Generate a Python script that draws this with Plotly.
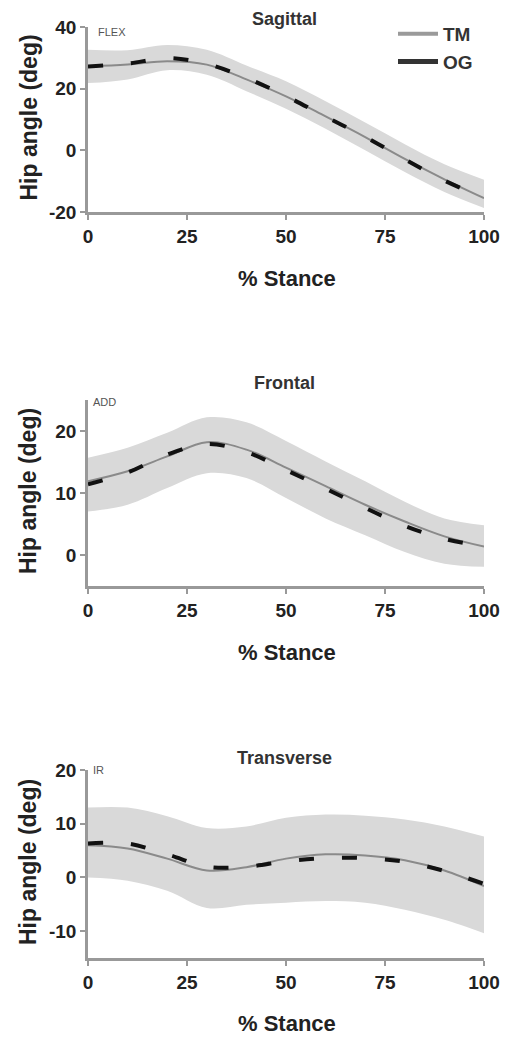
import plotly.graph_objects as go

W, H = 509, 1038
OFF = 8                       # page body margin in the browser
FW, FH = W - OFF, H - OFF     # figure size so it fits the window

# ---------------- data ----------------
stance = [0, 10, 20, 30, 40, 50, 60, 70, 80, 90, 100]

sag_tm = [27.2, 27.8, 28.9, 27.8, 23.0, 17.5, 11.0, 4.3, -2.8, -9.4, -15.5]
sag_og = [27.2, 28.1, 29.9, 28.0, 23.5, 17.6, 10.9, 4.4, -2.9, -9.8, -15.4]
sag_up = [32.6, 32.5, 34.2, 32.6, 27.5, 22.4, 15.9, 9.0, 2.0, -4.5, -9.5]
sag_lo = [21.8, 23.0, 26.0, 24.5, 19.2, 13.5, 7.0, 0.0, -7.0, -13.5, -18.7]

fro_tm = [11.9, 13.5, 15.9, 18.2, 17.0, 14.1, 11.1, 8.1, 5.4, 3.0, 1.35]
fro_og = [11.4, 13.3, 16.2, 17.9, 16.6, 13.7, 10.7, 7.6, 4.7, 2.6, 1.4]
fro_up = [15.7, 17.3, 19.7, 22.2, 21.4, 18.4, 15.1, 11.9, 8.6, 5.9, 4.8]
fro_lo = [7.0, 8.1, 10.8, 13.2, 12.4, 9.2, 5.9, 3.2, 0.5, -1.4, -1.9]

tra_tm = [6.0, 5.4, 3.5, 1.3, 1.9, 3.5, 4.3, 4.1, 3.2, 1.3, -1.6]
tra_og = [6.3, 6.3, 4.3, 2.0, 2.0, 3.0, 3.6, 3.6, 2.9, 1.2, -1.2]
tra_up = [13.0, 13.0, 11.4, 9.2, 9.5, 11.1, 11.7, 11.5, 10.8, 9.5, 7.6]
tra_lo = [0.0, -0.6, -2.5, -5.7, -5.1, -4.7, -4.4, -4.7, -6.0, -7.9, -10.4]

titles = ["Sagittal", "Frontal", "Transverse"]
corner = ["FLEX", "ADD", "IR"]
y_ranges = [[-20, 40], [-5, 25], [-15, 20]]
y_ticks = [[-20, 0, 20, 40], [0, 10, 20], [-10, 0, 10, 20]]
x_ticks = [0, 25, 50, 75, 100]
x_title = "% Stance"
y_title = "Hip angle (deg)"
series_names = ["TM", "OG"]

panels = [
    (sag_tm, sag_og, sag_up, sag_lo),
    (fro_tm, fro_og, fro_up, fro_lo),
    (tra_tm, tra_og, tra_up, tra_lo),
]

# ---------------- layout geometry (window pixels) ----------------
x_left, x_right = 88, 484
panel_px = [(27, 212), (400, 586), (770, 958)]
title_py = [19, 383, 758]
xtitle_py = [279, 652, 1023]
corner_py = [32, 402, 770]
corner_px = [96, 91, 91]

def px(x):
    return (x - OFF) / FW

def py(y):
    return 1 - (y - OFF) / FH

BAND = "#d9d9d9"
TMC = "#8a8a8a"
OGC = "#111111"
AXC = "#999999"
TXT = "#222222"
FONT = "Liberation Sans, Arial, sans-serif"

fig = go.Figure()
layout = dict(
    width=FW, height=FH, autosize=False,
    margin=dict(l=0, r=0, t=0, b=0, autoexpand=False),
    paper_bgcolor="white", plot_bgcolor="white",
    font=dict(family=FONT, color=TXT),
    showlegend=True,
)
annotations = []

for i, (tm, og, up, lo) in enumerate(panels):
    n = i + 1
    xa = "x" if n == 1 else f"x{n}"
    ya = "y" if n == 1 else f"y{n}"
    fig.add_trace(go.Scatter(x=stance, y=up, mode="lines", line=dict(width=0, color=BAND, shape="spline"),
                             xaxis=xa, yaxis=ya, showlegend=False, hoverinfo="skip"))
    fig.add_trace(go.Scatter(x=stance, y=lo, mode="lines", line=dict(width=0, color=BAND, shape="spline"),
                             fill="tonexty", fillcolor=BAND,
                             xaxis=xa, yaxis=ya, showlegend=False, hoverinfo="skip"))
    fig.add_trace(go.Scatter(x=stance, y=tm, mode="lines", line=dict(width=2, color=TMC, shape="spline"),
                             xaxis=xa, yaxis=ya, showlegend=False, name=series_names[0]))
    fig.add_trace(go.Scatter(x=stance, y=og, mode="lines",
                             line=dict(width=4, color=OGC, shape="spline", dash="15px,28px"),
                             xaxis=xa, yaxis=ya, showlegend=False, name=series_names[1]))

    top, bot = panel_px[i]
    xkey = "xaxis" if n == 1 else f"xaxis{n}"
    ykey = "yaxis" if n == 1 else f"yaxis{n}"
    layout[xkey] = dict(
        domain=[px(x_left), px(x_right)], anchor=ya, range=[0, 100], automargin=False,
        tickmode="array", tickvals=x_ticks, ticktext=[str(v) for v in x_ticks],
        ticks="outside", ticklen=5, tickwidth=2, tickcolor=AXC,
        showline=True, linecolor=AXC, linewidth=2.5, showgrid=False, zeroline=False,
        tickfont=dict(size=19, weight="bold", color=TXT, family=FONT),
    )
    layout[ykey] = dict(
        domain=[py(bot), py(top)], anchor=xa, range=y_ranges[i], automargin=False,
        tickmode="array", tickvals=y_ticks[i], ticktext=[str(v) for v in y_ticks[i]],
        ticks="outside", ticklen=5, tickwidth=2, tickcolor=AXC,
        showline=True, linecolor=AXC, linewidth=2.5, showgrid=False, zeroline=False,
        tickfont=dict(size=19, weight="bold", color=TXT, family=FONT),
    )
    annotations.append(dict(text=titles[i], xref="paper", yref="paper", x=px(284), y=py(title_py[i]),
                            xanchor="center", yanchor="middle", showarrow=False,
                            font=dict(size=18, weight="bold", color="#333333", family=FONT)))
    annotations.append(dict(text=x_title, xref="paper", yref="paper", x=px(287), y=py(xtitle_py[i]),
                            xanchor="center", yanchor="middle", showarrow=False,
                            font=dict(size=22, weight="bold", color=TXT, family=FONT)))
    annotations.append(dict(text=y_title, xref="paper", yref="paper", x=px(28), y=py((top + bot) / 2 - 2),
                            xanchor="center", yanchor="middle", showarrow=False, textangle=-90,
                            font=dict(size=23, weight="bold", color=TXT, family=FONT)))
    annotations.append(dict(text=corner[i], xref="paper", yref="paper", x=px(corner_px[i]), y=py(corner_py[i]),
                            xanchor="left", yanchor="middle", showarrow=False,
                            font=dict(size=11, color="#555555", family=FONT)))

# legend-only entries
fig.add_trace(go.Scatter(x=[None], y=[None], mode="lines", name=series_names[0],
                         line=dict(width=4, color="#9a9a9a"), xaxis="x", yaxis="y"))
fig.add_trace(go.Scatter(x=[None], y=[None], mode="lines", name=series_names[1],
                         line=dict(width=5, color="#333333"), xaxis="x", yaxis="y"))

layout["legend"] = dict(x=px(393), y=py(15), xanchor="left", yanchor="top", traceorder="normal",
                        itemwidth=40,
                        bgcolor="rgba(0,0,0,0)", borderwidth=0, tracegroupgap=0,
                        font=dict(size=19, weight="bold", color="#333333", family=FONT))
layout["annotations"] = annotations
fig.update_layout(**layout)

fig.write_html("out.html")
